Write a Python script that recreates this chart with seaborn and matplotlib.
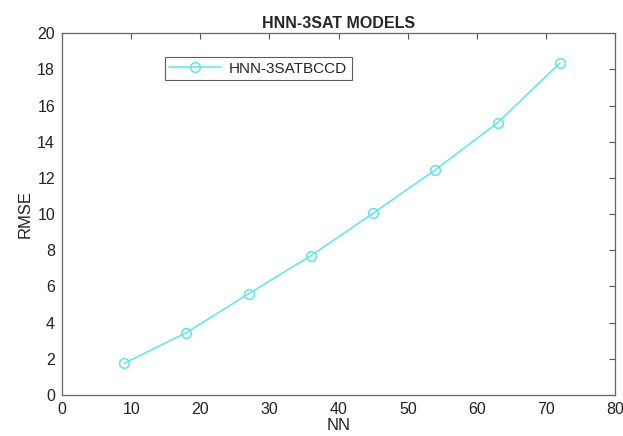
import matplotlib
matplotlib.use("Agg")
import matplotlib.pyplot as plt
import seaborn as sns
import pandas as pd

# 読み取った値
nn = [9, 18, 27, 36, 45, 54, 63, 72]
rmse = [1.75, 3.45, 5.6, 7.7, 10.05, 12.45, 15.05, 18.35]
series_name = "HNN-3SATBCCD"

sns.set_style("white")
plt.rcParams["font.family"] = ["Liberation Sans", "DejaVu Sans"]

df = pd.DataFrame({"NN": nn, "RMSE": rmse, "model": series_name})

fig = plt.figure(figsize=(6.23, 4.36), dpi=100)
ax = fig.add_axes([0.0995, 0.094, 0.888, 0.83])

sns.lineplot(
    data=df, x="NN", y="RMSE", hue="model", palette=["#5de6ea"],
    marker="o", markersize=7, markerfacecolor="none", markeredgecolor="#5de6ea",
    markeredgewidth=1.1, linewidth=1.1, ax=ax,
)

ax.set_xlim(0, 80)
ax.set_ylim(0, 20)
ax.set_xticks(range(0, 81, 10))
ax.set_yticks(range(0, 21, 2))
ax.tick_params(direction="in", top=True, right=True, length=4, width=0.8,
               color="#555555", labelsize=11.5, labelcolor="#222222", pad=5)
for s in ax.spines.values():
    s.set_color("#666666")
    s.set_linewidth(0.9)

ax.set_xlabel("NN", fontsize=12, color="#222222", labelpad=1)
ax.set_ylabel("RMSE", fontsize=12, color="#222222", labelpad=3)
ax.set_title("HNN-3SAT MODELS", fontsize=11.5, fontweight="bold", pad=4)

leg = ax.legend(loc="upper left", bbox_to_anchor=(0.172, 0.955), fontsize=11,
                frameon=True, fancybox=False, edgecolor="#333333",
                borderpad=0.3, handlelength=3.4, handletextpad=0.5)
leg.get_frame().set_linewidth(0.8)

fig.savefig("out.png", dpi=100)
